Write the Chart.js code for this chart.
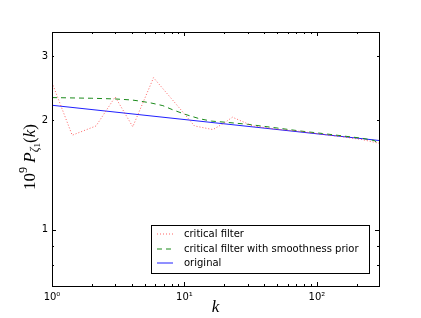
<!DOCTYPE html>
<html><head><meta charset="utf-8">
<script src="https://cdn.jsdelivr.net/npm/chart.js@4/dist/chart.umd.min.js"></script>
<style>html,body{margin:0;padding:0;background:#fff}#wrap{width:421px;height:318px;position:relative}</style>
</head><body><div id="wrap"><canvas id="c" width="421" height="318"></canvas></div>
<script>
// ---- data ----
const kRed = [1, 1.42, 2.15, 3.0, 4.07, 5.84, 8.7, 11.9, 16.4, 20.1, 23, 32.7, 50, 74, 110, 160, 220, 294];
const critical = [2.54, 1.82, 1.93, 2.32, 1.92, 2.62, 2.21, 1.93, 1.886, 1.97, 2.04, 1.93, 1.89, 1.865, 1.83, 1.80, 1.77, 1.73];
const kGreen = [1, 2, 3, 4, 4.57, 5.5, 6.87, 8.1, 10, 13, 16, 20.7, 30, 50, 74, 110, 160, 220, 270, 294];
const smooth = [2.31, 2.30, 2.29, 2.275, 2.26, 2.235, 2.195, 2.14, 2.08, 2.02, 1.99, 1.975, 1.95, 1.905, 1.87, 1.84, 1.81, 1.785, 1.76, 1.725];
const kBlue = [1, 294];
const original = [2.20, 1.76];
const xTicks = [1, 10, 100];
const xTickLabels = ['10⁰', '10¹', '10²'];
const yTicks = [1, 2, 3];
const yTickLabels = ['1', '2', '3'];
const seriesNames = ['critical filter', 'critical filter with smoothness prior', 'original'];

const toXY = (xs, ys) => xs.map((x, i) => ({x: x, y: ys[i]}));

const decor = {
  id: 'decor',
  afterDraw(chart) {
    const ctx = chart.ctx, a = chart.chartArea;
    const xs = chart.scales.x, ys = chart.scales.y;
    ctx.save();
    ctx.strokeStyle = '#000'; ctx.lineWidth = 1;
    ctx.strokeRect(Math.round(a.left) + 0.5, Math.round(a.top) + 0.5, Math.round(a.right - a.left), Math.round(a.bottom - a.top));
    const xMinor = [];
    for (let d = 1; d <= 100; d *= 10) for (let m = 2; m <= 9; m++) if (d * m <= xs.max) xMinor.push(d * m);
    const tick = (x1, y1, x2, y2) => { ctx.beginPath(); ctx.moveTo(x1, y1); ctx.lineTo(x2, y2); ctx.stroke(); };
    xTicks.forEach(v => { const p = Math.round(xs.getPixelForValue(v)) + 0.5; tick(p, a.bottom, p, a.bottom - 4); tick(p, a.top, p, a.top + 4); });
    xMinor.forEach(v => { const p = Math.round(xs.getPixelForValue(v)) + 0.5; tick(p, a.bottom, p, a.bottom - 2); tick(p, a.top, p, a.top + 2); });
    const yMinor = [0.7, 0.8, 0.9, 2, 3];
    [1].forEach(v => { const p = Math.round(ys.getPixelForValue(v)) + 0.5; tick(a.left, p, a.left + 4, p); tick(a.right, p, a.right - 4, p); });
    yMinor.forEach(v => { const p = Math.round(ys.getPixelForValue(v)) + 0.5; tick(a.left, p, a.left + 2, p); tick(a.right, p, a.right - 2, p); });

    // legend
    const lx = 151, ly = 225, lw = 218, lh = 48;
    ctx.fillStyle = '#fff'; ctx.fillRect(lx, ly, lw, lh);
    ctx.strokeStyle = '#000'; ctx.lineWidth = 1; ctx.strokeRect(lx + 0.5, ly + 0.5, lw, lh);
    const ds = chart.data.datasets;
    ds.forEach((d, i) => {
      const yy = Math.round(234 + i * 14.5);
      ctx.strokeStyle = d.borderColor; ctx.lineWidth = d.borderWidth;
      ctx.setLineDash(d.borderDash || []);
      ctx.beginPath(); ctx.moveTo(157, yy); ctx.lineTo(173, yy); ctx.stroke();
      ctx.setLineDash([]);
      ctx.fillStyle = '#000'; ctx.font = '10px "DejaVu Sans"'; ctx.textBaseline = 'middle'; ctx.textAlign = 'left';
      ctx.fillText(d.label, 184, yy);
    });

    // x title
    ctx.fillStyle = '#000';
    ctx.font = 'italic 17px "Liberation Serif"'; ctx.textAlign = 'center'; ctx.textBaseline = 'middle';
    ctx.fillText('k', (a.left + a.right) / 2, 308);

    // y title: 10^9 P_{ζ1}(k)
    const parts = [
      {t: '10', f: '17px "Liberation Serif"', dy: 0},
      {t: '9', f: '12px "Liberation Serif"', dy: -7},
      {t: ' ', f: '17px "Liberation Serif"', dy: 0},
      {t: 'P', f: 'italic 17px "Liberation Serif"', dy: 0},
      {t: 'ζ', f: 'italic 12px "Liberation Serif"', dy: 4},
      {t: '1', f: '9px "Liberation Serif"', dy: 7},
      {t: '(', f: '17px "Liberation Serif"', dy: 0},
      {t: 'k', f: 'italic 17px "Liberation Serif"', dy: 0},
      {t: ')', f: '17px "Liberation Serif"', dy: 0}
    ];
    let total = 0;
    parts.forEach(p => { ctx.font = p.f; p.w = ctx.measureText(p.t).width; total += p.w; });
    ctx.translate(31, (a.top + a.bottom) / 2 - 2);
    ctx.rotate(-Math.PI / 2);
    ctx.textAlign = 'left'; ctx.textBaseline = 'middle';
    let cx = -total / 2;
    parts.forEach(p => { ctx.font = p.f; ctx.fillText(p.t, cx, p.dy); cx += p.w; });
    ctx.restore();
  }
};

new Chart(document.getElementById('c'), {
  type: 'line',
  data: {
    datasets: [
      {label: seriesNames[0], data: toXY(kRed, critical), borderColor: 'rgba(255,60,60,0.8)', borderWidth: 1, borderDash: [1, 2], pointRadius: 0, fill: false, tension: 0},
      {label: seriesNames[1], data: toXY(kGreen, smooth), borderColor: '#1a8a1a', borderWidth: 1, borderDash: [5, 4], pointRadius: 0, fill: false, tension: 0},
      {label: seriesNames[2], data: toXY(kBlue, original), borderColor: '#2020ff', borderWidth: 1, pointRadius: 0, fill: false, tension: 0}
    ]
  },
  options: {
    responsive: false, animation: false, devicePixelRatio: 1,
    layout: {padding: {left: 0, right: 42, top: 32, bottom: 0}},
    plugins: {legend: {display: false}, tooltip: {enabled: false}},
    scales: {
      x: {
        type: 'logarithmic', min: 1, max: 294,
        grid: {display: false, drawTicks: false}, border: {display: false},
        afterBuildTicks: s => { s.ticks = xTicks.map(v => ({value: v})); },
        afterFit: s => { s.height = 32; },
        ticks: {padding: 5, color: '#000', font: {family: 'DejaVu Sans', size: 10}, maxRotation: 0,
          callback: (v) => { const i = xTicks.indexOf(v); return i >= 0 ? xTickLabels[i] : ''; }}
      },
      y: {
        type: 'logarithmic', min: 0.7, max: 3.5,
        grid: {display: false, drawTicks: false}, border: {display: false},
        afterBuildTicks: s => { s.ticks = yTicks.map(v => ({value: v})); },
        afterFit: s => { s.width = 52; },
        ticks: {padding: 4, color: '#000', font: {family: 'DejaVu Sans', size: 10},
          callback: (v) => { const i = yTicks.indexOf(v); return i >= 0 ? yTickLabels[i] : ''; }}
      }
    }
  },
  plugins: [decor]
});
</script></body></html>
